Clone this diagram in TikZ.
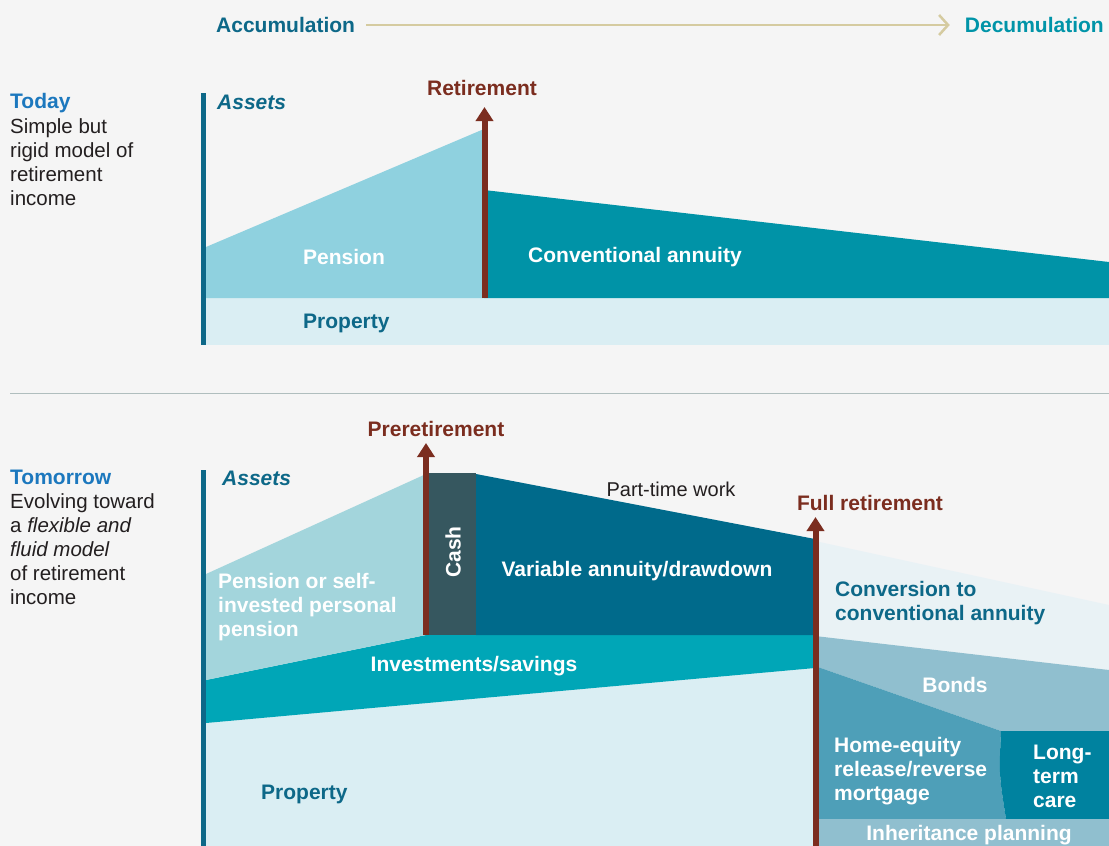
\documentclass[tikz,border=0pt]{standalone}
\usepackage{fontspec}
\setmainfont{Liberation Sans}
\usepackage{xcolor}
\usepackage{tikz}
\usetikzlibrary{arrows.meta}
\definecolor{rmbg}{RGB}{245,245,245}
\definecolor{rmteal}{RGB}{13,104,136}
\definecolor{rmdecum}{RGB}{0,148,168}
\definecolor{rmblue}{RGB}{28,120,190}
\definecolor{rmink}{RGB}{35,31,32}
\definecolor{rmbrown}{RGB}{123,45,31}
\definecolor{rmtan}{RGB}{213,203,160}
\definecolor{rmrule}{RGB}{176,190,190}
\definecolor{rmprop}{RGB}{218,238,243}
\definecolor{rmpension}{RGB}{143,209,223}
\definecolor{rmannuity}{RGB}{0,147,167}
\definecolor{rmsipp}{RGB}{163,213,220}
\definecolor{rmsaving}{RGB}{0,166,183}
\definecolor{rmcash}{RGB}{54,87,95}
\definecolor{rmdraw}{RGB}{0,106,139}
\definecolor{rmconv}{RGB}{233,242,245}
\definecolor{rmbonds}{RGB}{144,191,207}
\definecolor{rmhome}{RGB}{78,159,184}
\definecolor{rmcare}{RGB}{0,130,159}

\begin{document}
\begin{tikzpicture}[x=1pt, y=-1pt,
  lbl/.style={inner sep=0pt, font=\fontsize{21}{24}\selectfont\bfseries},
  wlbl/.style={lbl, text=white, align=left},
  tlbl/.style={lbl, text=rmteal, align=left},
  mslbl/.style={lbl, text=rmbrown},
  head/.style={inner sep=0pt, text=rmblue, font=\fontsize{21}{24}\selectfont\bfseries},
  body/.style={inner sep=0pt, align=left, text=rmink, font=\fontsize{20.5}{24}\selectfont},
  axis/.style={draw=rmteal, line width=5pt},
  milestone/.style={draw=rmbrown, line width=6pt, -{Triangle[width=17pt,length=14pt]}},
  flow/.style={draw=rmtan, line width=2.5pt, -{Straight Barb[length=9pt,width=20pt]},
    shorten <=11pt, shorten >=15pt}]
% outer
\fill[rmbg] (0,0) rectangle (1109,846);
\useasboundingbox (0,0) rectangle (1109,846);

% accumulation -> decumulation
\node[lbl, text=rmteal, anchor=west] (accum) at (216,25) {Accumulation};
\node[lbl, text=rmdecum, anchor=east] (decum) at (1104,25) {Decumulation};
\draw[flow] (accum.east) -- (decum.west);

% today
\node[head, anchor=west] (today) at (10,103) {Today};
\node[body, anchor=west] (todaytxt) at (10,162) {Simple but\\rigid model of\\retirement\\income};

\fill[rmprop] (206,298) rectangle (1109,345);
\fill[rmpension] (206,247) -- (484,129) -- (484,298) -- (206,298) -- cycle;
\fill[rmannuity] (484,190) -- (1109,262) -- (1109,298) -- (484,298) -- cycle;
\draw[axis] (203.5,93) -- (203.5,345);
\node[lbl, text=rmteal, font=\fontsize{21}{24}\selectfont\bfseries\itshape, anchor=west] (assetsa) at (217,102) {Assets};

\node[wlbl, anchor=west] (pension) at (303,257) {Pension};
\node[wlbl, anchor=west] (annuity) at (528,257) {Conventional annuity};
\node[tlbl, anchor=west] (propa) at (303,323) {Property};

\coordinate (retbase) at (484.5,298);
\coordinate (rettip) at (484.5,107);
\draw[milestone] (retbase) -- (rettip);
\node[mslbl] (retire) at (482,88) {Retirement};

% divider
\draw[rmrule, line width=1pt] (10,393) -- (1109,393);

% tomorrow
\node[head, anchor=west] (tomorrow) at (10,477) {Tomorrow};
\node[body, anchor=west] (tomorrowtxt) at (10,549)
  {Evolving toward\\a \textit{flexible and}\\\textit{fluid model}\\of retirement\\income};

% accumulation side
\fill[rmprop] (206,723) -- (815,668) -- (815,846) -- (206,846) -- cycle;
\fill[rmsaving] (206,680) -- (426,635) -- (815,635) -- (815,668) -- (206,723) -- cycle;
\fill[rmsipp] (206,574) -- (426,474) -- (426,635) -- (206,680) -- cycle;
\fill[rmcash] (428,473) rectangle (476,635);
\fill[rmdraw] (476,474) -- (815,539) -- (815,635) -- (476,635) -- cycle;

% decumulation side
\fill[rmconv] (815,541) -- (1109,605) -- (1109,670) -- (815,636) -- cycle;
\fill[rmbonds] (815,636) -- (1109,670) -- (1109,731) -- (1001,731) -- (815,666) -- cycle;
\fill[rmhome] (815,666) -- (1001,731) .. controls (999,775) .. (1006,819) -- (815,819) -- cycle;
\fill[rmcare] (1001,731) -- (1109,731) -- (1109,819) -- (1006,819) .. controls (999,775) .. (1001,731) -- cycle;
\fill[rmbonds] (815,819) rectangle (1109,846);

\draw[axis] (203.5,470) -- (203.5,846);
\node[lbl, text=rmteal, font=\fontsize{21}{24}\selectfont\bfseries\itshape, anchor=west] (assetsb) at (222,478) {Assets};

% milestones
\coordinate (prebase) at (426,635);
\coordinate (pretip) at (426,443);
\draw[milestone] (prebase) -- (pretip);
\node[mslbl] (preretire) at (436,429) {Preretirement};

\coordinate (fullbase) at (815.5,846);
\coordinate (fulltip) at (815.5,517);
\draw[milestone] (fullbase) -- (fulltip);
\node[mslbl] (fullretire) at (870,503) {Full retirement};

% labels
\node[wlbl, anchor=west] (sipp) at (218,607) {Pension or self-\\invested personal\\pension};
\node[wlbl, rotate=90] (cash) at (453,552) {Cash};
\node[wlbl] (drawdown) at (637,571) {Variable annuity/drawdown};
\node[inner sep=0pt, text=rmink, font=\fontsize{20}{22}\selectfont] (parttime) at (671,489) {Part-time work};
\node[wlbl] (savings) at (474,666) {Investments/savings};
\node[tlbl, anchor=west] (propb) at (261,794) {Property};
\node[tlbl, anchor=west] (convert) at (835,603) {Conversion to\\conventional annuity};
\node[wlbl] (bonds) at (955,685) {Bonds};
\node[wlbl, anchor=west] (homeeq) at (834,771) {Home-equity\\release/reverse\\mortgage};
\node[wlbl, anchor=west] (ltc) at (1033,776) {Long-\\term\\care};
\node[wlbl] (inherit) at (969,835) {Inheritance planning};
\end{tikzpicture}
\end{document}
